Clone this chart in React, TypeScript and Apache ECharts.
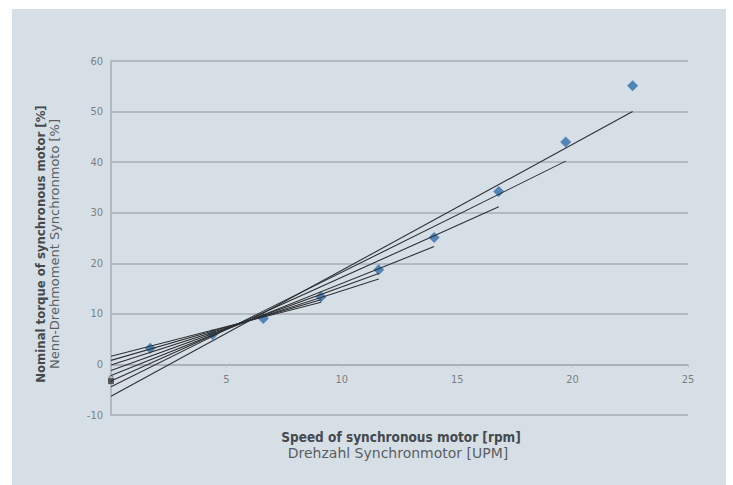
import React, { useEffect, useRef } from 'react';
import * as echarts from 'echarts';

// Data
const pointX = [1.7, 4.4, 6.6, 9.1, 11.6, 14.0, 16.8, 19.7, 22.6];
const pointY = [3.2, 5.9, 9.1, 13.4, 18.7, 25.1, 34.2, 44.0, 55.1];
const originX = [0];
const originY = [-3.3];
// trend lines (start at speed 0)
const trendStartY = [-6.3, -4.4, -3.3, -2.2, -1.2, -0.1, 0.8, 1.6];
const trendEndX = [22.6, 19.7, 16.8, 14.0, 11.6, 11.6, 9.1, 9.1];
const trendEndY = [50.0, 40.2, 31.2, 23.3, 18.0, 16.9, 12.8, 12.3];

const xName1 = 'Speed of synchronous motor [rpm]';
const xName2 = 'Drehzahl Synchronmotor [UPM]';
const yName1 = 'Nominal torque of synchronous motor [%]';
const yName2 = 'Nenn-Drehmoment Synchronmoto [%]';

const Y_MIN = -10;
const Y_MAX = 60;
const GRID_TOP = 61;
const GRID_BOTTOM = 70;
const CHART_H = 485;

const FONT_C = "'DejaVu Sans Condensed', 'DejaVu Sans', sans-serif";
const FONT_N = "'DejaVu Sans', sans-serif";

export default function App() {
  const ref = useRef<HTMLDivElement>(null);
  useEffect(() => {
    if (!ref.current) return;
    const chart = echarts.init(ref.current, undefined, { renderer: 'svg' });
    const plotH = CHART_H - GRID_TOP - GRID_BOTTOM;
    // move the x axis up so that it sits on the y = 0 line
    const zeroOffset = -(0 - Y_MIN) * (plotH / (Y_MAX - Y_MIN));
    const trendSeries = trendStartY.map((s, i) => ({
      type: 'line',
      data: [
        [0, s],
        [trendEndX[i], trendEndY[i]],
      ],
      symbol: 'none',
      lineStyle: { color: '#2e3033', width: 1.1 },
      z: 5,
      silent: true,
    }));
    chart.setOption({
      animation: false,
      backgroundColor: 'transparent',
      textStyle: { fontFamily: FONT_C },
      grid: { left: 111, right: 45, top: GRID_TOP, bottom: GRID_BOTTOM, containLabel: false },
      xAxis: {
        type: 'value',
        min: 0,
        max: 25,
        interval: 5,
        offset: zeroOffset,
        axisLine: { onZero: false, lineStyle: { color: '#a8aeb4', width: 1.5 } },
        axisTick: { show: true, length: 3, lineStyle: { color: '#b8bec4' } },
        axisLabel: { color: '#7a7f85', fontSize: 11, margin: 10, fontFamily: FONT_C },
        splitLine: { show: false },
      },
      yAxis: {
        type: 'value',
        min: Y_MIN,
        max: Y_MAX,
        interval: 10,
        axisLine: { show: true, onZero: false, lineStyle: { color: '#a8aeb4', width: 1.5 } },
        axisTick: { show: false },
        axisLabel: { color: '#7a7f85', fontSize: 11, margin: 8, fontFamily: FONT_C },
        splitLine: { show: true, lineStyle: { color: '#a8aeb4', width: 1.5 } },
      },
      series: [
        {
          type: 'scatter',
          data: pointX.map((x, i) => [x, pointY[i]]),
          symbol: 'diamond',
          symbolSize: 11,
          itemStyle: { color: '#2f6eab' },
          z: 3,
        },
        {
          type: 'scatter',
          data: originX.map((x, i) => [x, originY[i]]),
          symbol: 'rect',
          symbolSize: 6,
          itemStyle: { color: '#3a3f46' },
          z: 3,
        },
        ...trendSeries,
      ],
      graphic: [
        {
          type: 'text',
          x: 401,
          y: 437,
          style: {
            text: xName1,
            fill: '#45494e',
            font: `bold 13.5px ${FONT_C}`,
            align: 'center',
            verticalAlign: 'middle',
          },
        },
        {
          type: 'text',
          x: 398,
          y: 453,
          style: {
            text: xName2,
            fill: '#5a5e63',
            font: `14px ${FONT_N}`,
            align: 'center',
            verticalAlign: 'middle',
          },
        },
        {
          type: 'text',
          x: 40,
          y: 244,
          rotation: Math.PI / 2,
          style: {
            text: yName1,
            fill: '#45494e',
            font: `bold 13px ${FONT_C}`,
            align: 'center',
            verticalAlign: 'middle',
          },
        },
        {
          type: 'text',
          x: 54,
          y: 244,
          rotation: Math.PI / 2,
          style: {
            text: yName2,
            fill: '#5a5e63',
            font: `13px ${FONT_N}`,
            align: 'center',
            verticalAlign: 'middle',
          },
        },
      ],
    });
    return () => chart.dispose();
  }, []);
  return (
    <div style={{ position: 'fixed', left: 0, top: 0, width: 733, height: 485, background: '#ffffff' }}>
      <div style={{ position: 'absolute', left: 12, top: 9, width: 714, height: 476, background: '#d7dfe6' }} />
      <div ref={ref} style={{ position: 'absolute', left: 0, top: 0, width: 733, height: 485 }} />
    </div>
  );
}
